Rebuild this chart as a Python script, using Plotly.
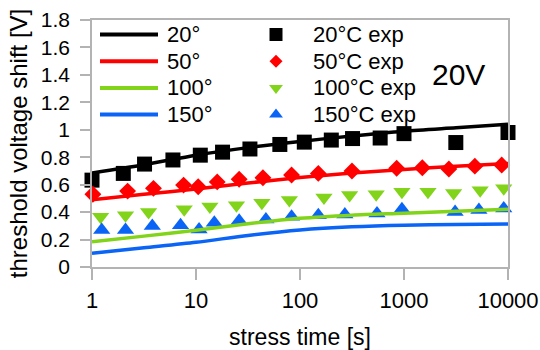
import plotly.graph_objects as go

# ---------------- data ----------------
model_t = [1, 3.16, 10, 31.6, 100, 316, 1000, 3160, 10000]
model_20 = [0.685, 0.745, 0.815, 0.870, 0.915, 0.955, 0.990, 1.015, 1.040]
model_50 = [0.490, 0.530, 0.568, 0.612, 0.652, 0.685, 0.710, 0.735, 0.755]
model_100 = [0.184, 0.225, 0.267, 0.315, 0.355, 0.378, 0.392, 0.407, 0.420]
model_150 = [0.100, 0.140, 0.180, 0.230, 0.270, 0.293, 0.305, 0.310, 0.313]

exp20_t = [1, 2, 3.2, 6, 11, 18, 33, 64, 110, 200, 320, 590, 1000, 3150, 10000]
exp20_v = [0.633, 0.682, 0.750, 0.780, 0.815, 0.837, 0.860, 0.893, 0.910,
           0.925, 0.936, 0.940, 0.972, 0.907, 0.980]

exp50_t = [1.02, 2.2, 3.9, 7.6, 10.5, 16, 26, 44, 83, 150, 316, 850, 1500,
           2700, 4800, 8700]
exp50_v = [0.530, 0.553, 0.573, 0.597, 0.585, 0.620, 0.640, 0.650, 0.670,
           0.682, 0.700, 0.720, 0.723, 0.714, 0.735, 0.743]

exp100_t = [1.21, 2.1, 3.5, 7.7, 13.6, 24.5, 43, 79, 170, 300, 540, 955,
            1700, 3000, 5400, 9100]
exp100_v = [0.366, 0.378, 0.400, 0.420, 0.440, 0.450, 0.468, 0.488, 0.507,
            0.524, 0.530, 0.548, 0.548, 0.540, 0.560, 0.573]

exp150_t = [1.24, 2.1, 3.8, 7.1, 10.7, 15, 26, 47, 83, 150, 270, 550, 955,
            3100, 5250, 9100]
exp150_v = [0.270, 0.270, 0.298, 0.305, 0.274, 0.322, 0.337, 0.347, 0.366,
            0.378, 0.383, 0.390, 0.420, 0.400, 0.415, 0.427]

x_tickvals = [1, 10, 100, 1000, 10000]
x_ticktext = ["1", "10", "100", "1000", "10000"]
y_tickvals = [0, 0.2, 0.4, 0.6, 0.8, 1, 1.2, 1.4, 1.6, 1.8]
y_ticktext = ["0", "0.2", "0.4", "0.6", "0.8", "1", "1.2", "1.4", "1.6", "1.8"]

line_names = ["20°", "50°", "100°", "150°"]
exp_names = ["20°C exp", "50°C exp", "100°C exp", "150°C exp"]
colors = ["#000000", "#ff0000", "#81d41a", "#0a64f5"]
symbols = ["square", "diamond", "triangle-down", "triangle-up"]
marker_sizes = [15, 13, 15, 15]
legend_marker_sizes = [13, 10, 12, 12]

FONT = "Liberation Sans, Arial, sans-serif"
AXIS_COLOR = "#b3b3b3"

fig = go.Figure()

exp_sets = [(exp20_t, exp20_v), (exp50_t, exp50_v), (exp100_t, exp100_v), (exp150_t, exp150_v)]
for (t, v), name, c, s, ms in zip(exp_sets, exp_names, colors, symbols, marker_sizes):
    fig.add_trace(go.Scatter(x=t, y=v, mode="markers", name=name,
                             marker=dict(symbol=s, size=ms, color=c, line=dict(width=0)),
                             cliponaxis=False, showlegend=False))

models = [model_20, model_50, model_100, model_150]
for v, name, c in zip(models, line_names, colors):
    fig.add_trace(go.Scatter(x=model_t, y=v, mode="lines", name=name,
                             line=dict(color=c, width=3.5, shape="spline", smoothing=0.8),
                             showlegend=False))

# ---------------- custom two-column legend (pixel-unit overlay axes) ----------------
rows = [34.5, 61.2, 87.9, 114.6]
for i, r in enumerate(rows):
    fig.add_trace(go.Scatter(x=[100, 158], y=[r, r], mode="lines", xaxis="x2", yaxis="y2",
                             line=dict(color=colors[i], width=4), hoverinfo="skip",
                             showlegend=False))
    fig.add_trace(go.Scatter(x=[276], y=[r], mode="markers", xaxis="x2", yaxis="y2",
                             marker=dict(symbol=symbols[i], size=legend_marker_sizes[i],
                                         color=colors[i], line=dict(width=0)),
                             hoverinfo="skip", showlegend=False, cliponaxis=False))
    fig.add_annotation(x=165, y=r, xref="x2", yref="y2", text=line_names[i],
                       showarrow=False, xanchor="left", yanchor="middle",
                       font=dict(family=FONT, size=22, color="black"))
    fig.add_annotation(x=311, y=r, xref="x2", yref="y2", text=exp_names[i],
                       showarrow=False, xanchor="left", yanchor="middle",
                       font=dict(family=FONT, size=22, color="black"))

fig.add_annotation(x=458, y=74, xref="x2", yref="y2", text="20V", showarrow=False,
                   xanchor="center", yanchor="middle",
                   font=dict(family=FONT, size=30, color="black"))

fig.update_layout(
    width=540, height=350,
    margin=dict(l=92, r=32, t=20, b=83, autoexpand=False),
    paper_bgcolor="white", plot_bgcolor="white",
    font=dict(family=FONT, color="black"),
    showlegend=False,
    xaxis=dict(type="log", range=[0, 4], tickvals=x_tickvals, ticktext=x_ticktext,
               ticks="outside", ticklen=11, tickwidth=1.5, tickcolor=AXIS_COLOR,
               showline=True, linecolor=AXIS_COLOR, linewidth=1.5, mirror=True,
               showgrid=False, zeroline=False, automargin=False, ticklabelstandoff=2,
               tickfont=dict(family=FONT, size=22, color="black"),
               title=dict(text="stress time [s]", font=dict(family=FONT, size=23, color="black"),
                          standoff=20)),
    yaxis=dict(range=[0, 1.8], tickvals=y_tickvals, ticktext=y_ticktext,
               ticks="outside", ticklen=10, tickwidth=1.5, tickcolor=AXIS_COLOR,
               showline=True, linecolor=AXIS_COLOR, linewidth=1.5, mirror=True,
               showgrid=False, zeroline=False, automargin=False, ticklabelstandoff=6,
               tickfont=dict(family=FONT, size=21, color="black"),
               title=dict(text="threshold voltage shift [V]",
                          font=dict(family=FONT, size=24, color="black"), standoff=6)),
    xaxis2=dict(overlaying="x", anchor="y2", range=[92, 508], visible=False, fixedrange=True),
    yaxis2=dict(overlaying="y", anchor="x2", range=[267, 20], visible=False, fixedrange=True),
)

fig.write_html("out.html")
